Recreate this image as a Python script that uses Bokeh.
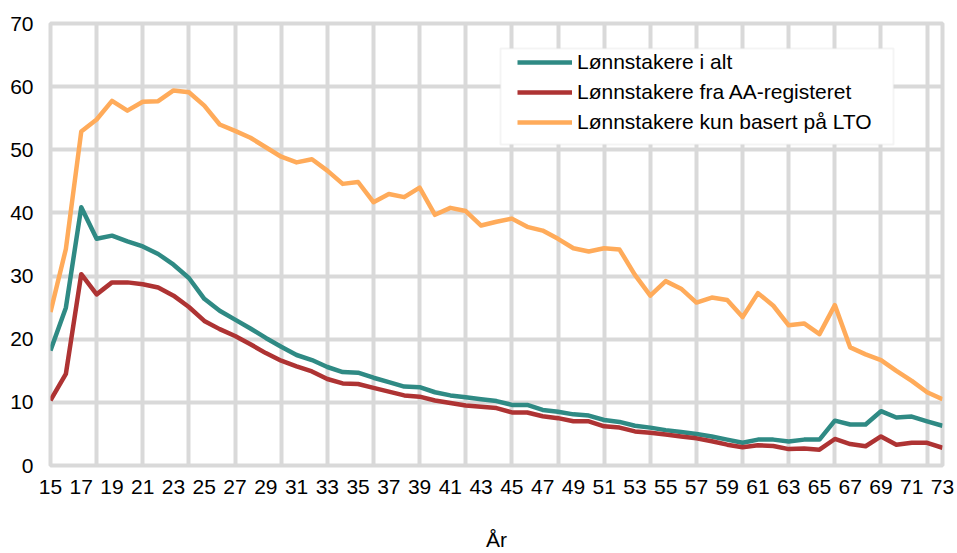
from bokeh.plotting import figure
from bokeh.models import FixedTicker, Legend, LegendItem, BoxAnnotation, ColumnDataSource
from bokeh.embed import file_html
from bokeh.resources import INLINE

ages = list(range(15, 74))
x_tick_labels = list(range(15, 74, 2))
y_ticks = [0, 10, 20, 30, 40, 50, 60, 70]
x_grid = list(range(18, 73, 3))
x_title = "År"

series_names = ["Lønnstakere i alt", "Lønnstakere fra AA-registeret", "Lønnstakere kun basert på LTO"]

i_alt = [18.2, 25.0, 40.9, 35.9, 36.4, 35.5, 34.7, 33.5, 31.8, 29.7,
         26.4, 24.5, 23.1, 21.7, 20.2, 18.8, 17.5, 16.7, 15.6, 14.8,
         14.7, 13.9, 13.2, 12.5, 12.4, 11.6, 11.1, 10.8, 10.5, 10.2,
         9.6, 9.6, 8.8, 8.5, 8.1, 7.9, 7.2, 6.9, 6.3, 6.0,
         5.6, 5.3, 5.0, 4.6, 4.1, 3.6, 4.1, 4.1, 3.8, 4.1,
         4.1, 7.1, 6.5, 6.5, 8.6, 7.6, 7.75, 7.0, 6.3]

aa_reg = [10.3, 14.5, 30.3, 27.1, 29.0, 29.0, 28.7, 28.2, 26.9, 25.1,
          22.9, 21.6, 20.5, 19.2, 17.8, 16.6, 15.7, 14.9, 13.7, 13.0,
          12.9, 12.3, 11.7, 11.1, 10.9, 10.3, 9.9, 9.5, 9.3, 9.1,
          8.4, 8.4, 7.8, 7.5, 7.0, 7.0, 6.2, 6.0, 5.4, 5.2,
          4.9, 4.6, 4.3, 3.85, 3.3, 2.9, 3.2, 3.1, 2.6, 2.7,
          2.5, 4.2, 3.4, 3.05, 4.6, 3.3, 3.6, 3.6, 2.8]

lto = [24.3, 34.3, 52.9, 54.8, 57.75, 56.2, 57.6, 57.7, 59.4, 59.1,
       57.0, 54.0, 53.0, 51.9, 50.4, 48.9, 48.0, 48.5, 46.7, 44.6,
       44.9, 41.7, 43.0, 42.5, 44.0, 39.7, 40.8, 40.3, 38.0, 38.6,
       39.1, 37.8, 37.2, 35.9, 34.4, 33.9, 34.4, 34.2, 30.2, 26.9,
       29.2, 28.0, 25.8, 26.6, 26.2, 23.5, 27.3, 25.3, 22.2, 22.5,
       20.8, 25.4, 18.7, 17.6, 16.7, 15.0, 13.4, 11.6, 10.5]

colors = ["#2F8A84", "#AE3333", "#FFAB5A"]
GRID = "#D9D9D9"
FONT = "Liberation Sans"

src = ColumnDataSource(dict(age=ages, alt=i_alt, aa=aa_reg, lto=lto))

p = figure(width=957, height=553, output_backend="svg", toolbar_location=None,
           x_range=(15, 73), y_range=(0, 70),
           min_border_left=50, min_border_right=15, min_border_top=23, min_border_bottom=88)

p.background_fill_color = "white"
p.border_fill_color = "white"
p.outline_line_color = GRID
p.outline_line_width = 4

for ax in (p.xaxis[0], p.yaxis[0]):
    ax.axis_line_color = None
    ax.major_tick_line_color = None
    ax.minor_tick_line_color = None
    ax.major_tick_out = 0
    ax.major_tick_in = 0
    ax.major_label_text_font = FONT
    ax.major_label_text_font_size = "21px"
    ax.major_label_text_color = "black"

p.xaxis.ticker = FixedTicker(ticks=x_tick_labels)
p.yaxis.ticker = FixedTicker(ticks=y_ticks)
p.xaxis.major_label_standoff = 14
p.yaxis.major_label_standoff = 17
p.xaxis.axis_label = x_title
p.xaxis.axis_label_text_font = FONT
p.xaxis.axis_label_text_font_size = "21px"
p.xaxis.axis_label_text_font_style = "normal"
p.xaxis.axis_label_text_color = "black"
p.xaxis.axis_label_standoff = 31

p.xgrid.ticker = FixedTicker(ticks=x_grid)
p.ygrid.ticker = FixedTicker(ticks=y_ticks)
for g in (p.xgrid[0], p.ygrid[0]):
    g.grid_line_color = GRID
    g.grid_line_width = 4

renderers = []
for col, c in zip(["alt", "aa", "lto"], colors):
    r = p.line("age", col, source=src, line_color=c, line_width=4.5, line_join="round")
    renderers.append(r)

# legend frame (screen units relative to the plot frame, y upward)
box = BoxAnnotation(left=450, right=843, top=417, bottom=321,
                    left_units="screen", right_units="screen",
                    top_units="screen", bottom_units="screen",
                    fill_color="white", fill_alpha=1.0,
                    line_color=GRID, line_width=2, level="annotation")
p.add_layout(box)

legend = Legend(items=[LegendItem(label=n, renderers=[r]) for n, r in zip(series_names, renderers)],
                location=(464, 325), orientation="vertical",
                padding=3, spacing=0, margin=0,
                glyph_width=55, glyph_height=30, label_height=30, label_standoff=5,
                label_text_font=FONT, label_text_font_size="21px", label_text_color="black",
                border_line_alpha=0, background_fill_alpha=0)
p.add_layout(legend, "center")

open("out.html", "w").write(file_html(p, INLINE))
